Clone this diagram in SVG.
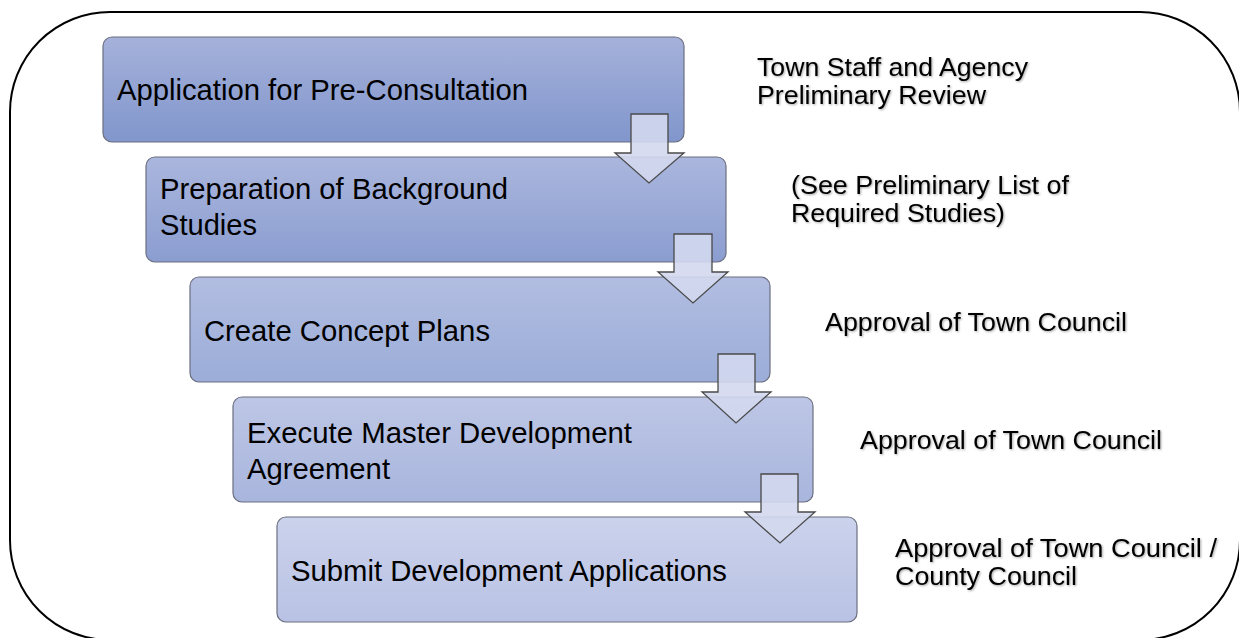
<svg xmlns="http://www.w3.org/2000/svg" width="1239" height="638" viewBox="0 0 1239 638">
<defs>
<linearGradient id="g1" x1="0" y1="0" x2="0" y2="1"><stop offset="0" stop-color="#a5b1da"/><stop offset="1" stop-color="#8196cc"/></linearGradient>
<linearGradient id="g2" x1="0" y1="0" x2="0" y2="1"><stop offset="0" stop-color="#aab6dd"/><stop offset="1" stop-color="#8b9dd0"/></linearGradient>
<linearGradient id="g3" x1="0" y1="0" x2="0" y2="1"><stop offset="0" stop-color="#b2bde1"/><stop offset="1" stop-color="#9badd8"/></linearGradient>
<linearGradient id="g4" x1="0" y1="0" x2="0" y2="1"><stop offset="0" stop-color="#bdc6e5"/><stop offset="1" stop-color="#a8b5dd"/></linearGradient>
<linearGradient id="g5" x1="0" y1="0" x2="0" y2="1"><stop offset="0" stop-color="#cbd2ec"/><stop offset="1" stop-color="#b9c2e4"/></linearGradient>
<filter id="sh" x="-5%" y="-20%" width="110%" height="140%"><feDropShadow dx="1" dy="1" stdDeviation="0.8" flood-color="#000" flood-opacity="0.35"/></filter>
</defs>
<style>
.box{stroke:#6b6f80;stroke-width:1.2}
.bt{font-family:"Liberation Sans",Arial,sans-serif;font-size:30px;fill:#000}
.rt{font-family:"Liberation Sans",Arial,sans-serif;font-size:26px;fill:#000;filter:url(#sh)}
.arr{fill:#d3d8ee;fill-opacity:0.9;stroke:#4a4a4a;stroke-width:1.3;stroke-linejoin:miter}
</style>
<rect id="frame" x="10" y="12" width="1230" height="628" rx="100" ry="100" fill="none" stroke="#000" stroke-width="2"/>
<g id="n1"><rect class="box" x="103" y="37" width="581" height="105" rx="9" fill="url(#g1)"/><text class="bt" x="117" y="100" textLength="411" lengthAdjust="spacingAndGlyphs">Application for Pre-Consultation</text></g>
<g id="n2"><rect class="box" x="146" y="157" width="580" height="105" rx="9" fill="url(#g2)"/><text class="bt" x="160" y="199" textLength="348" lengthAdjust="spacingAndGlyphs">Preparation of Background</text><text class="bt" x="160" y="235" textLength="97" lengthAdjust="spacingAndGlyphs">Studies</text></g>
<g id="n3"><rect class="box" x="190" y="277" width="580" height="105" rx="9" fill="url(#g3)"/><text class="bt" x="204" y="341" textLength="286" lengthAdjust="spacingAndGlyphs">Create Concept Plans</text></g>
<g id="n4"><rect class="box" x="233" y="397" width="580" height="105" rx="9" fill="url(#g4)"/><text class="bt" x="247" y="443" textLength="385" lengthAdjust="spacingAndGlyphs">Execute Master Development</text><text class="bt" x="247" y="479" textLength="143" lengthAdjust="spacingAndGlyphs">Agreement</text></g>
<g id="n5"><rect class="box" x="277" y="517" width="580" height="105" rx="9" fill="url(#g5)"/><text class="bt" x="291" y="581" textLength="436" lengthAdjust="spacingAndGlyphs">Submit Development Applications</text></g>
<g id="connectors">
<polygon class="arr" points="631,114 668,114 668,153 684,153 649,183 615,153 631,153"/>
<polygon class="arr" points="674,234 712,234 712,272 728,272 693,303 658,272 674,272"/>
<polygon class="arr" points="718,354 755,354 755,392 771,392 736,423 702,392 718,392"/>
<polygon class="arr" points="761,474 798,474 798,512 815,512 780,543 745,512 761,512"/>
</g>
<g id="labels">
<text class="rt" x="757" y="76" textLength="271" lengthAdjust="spacingAndGlyphs">Town Staff and Agency</text>
<text class="rt" x="757" y="104" textLength="229" lengthAdjust="spacingAndGlyphs">Preliminary Review</text>
<text class="rt" x="791" y="194" textLength="278" lengthAdjust="spacingAndGlyphs">(See Preliminary List of</text>
<text class="rt" x="791" y="222" textLength="214" lengthAdjust="spacingAndGlyphs">Required Studies)</text>
<text class="rt" x="825" y="331" textLength="302" lengthAdjust="spacingAndGlyphs">Approval of Town Council</text>
<text class="rt" x="860" y="449" textLength="302" lengthAdjust="spacingAndGlyphs">Approval of Town Council</text>
<text class="rt" x="895" y="557" textLength="322" lengthAdjust="spacingAndGlyphs">Approval of Town Council /</text>
<text class="rt" x="895" y="585" textLength="182" lengthAdjust="spacingAndGlyphs">County Council</text>
</g>
</svg>
